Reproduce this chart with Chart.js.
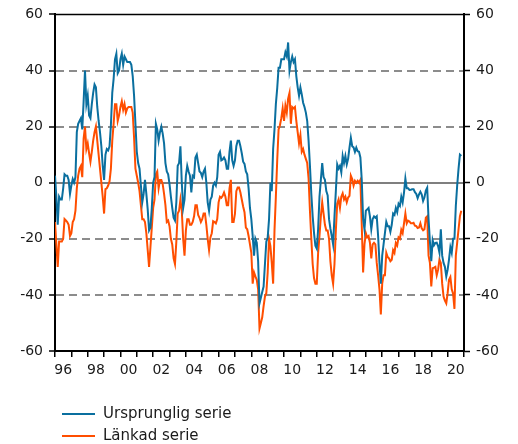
<!DOCTYPE html>
<html>
<head>
<meta charset="utf-8">
<script src="https://cdn.jsdelivr.net/npm/chart.js@4.4.1/dist/chart.umd.min.js"></script>
<style>
  body { margin: 0; background: #fff; }
  #wrap { position: relative; width: 518px; height: 444px; }
  .leg { position: absolute; left: 62px; height: 20px; line-height: 20px; font: 15px 'DejaVu Sans', sans-serif; color: #1a1a1a; white-space: nowrap; }
  .leg i { display: inline-block; width: 33px; height: 2px; vertical-align: middle; margin-right: 8px; }
</style>
</head>
<body>
<div id="wrap">
  <canvas id="chart" width="518" height="444"></canvas>
  <div class="leg" style="top:404px"><i style="background:#0a6f9f"></i>Ursprunglig serie</div>
  <div class="leg" style="top:426px"><i style="background:#ff4e00"></i>Länkad serie</div>
</div>
<script>
// monthly values from Jan 1996
const startYear = 1996;
const endYear = 2021;
const yearLabels = ["96","98","00","02","04","06","08","10","12","14","16","18","20"];
const yTicks = [-60, -40, -20, 0, 20, 40, 60];

const ursprunglig = [
  2.5, -5, -15, -5, -6, -6, -2, 3, 2.5, 2.5, 1, -4,
  -1, 1.3, 0, 2, 18, 21, 22, 23, 19, 29, 40, 28,
  31, 24, 23, 28, 32, 35, 34, 27, 22, 18, 13, 6,
  1, 10, 12, 11.5, 13, 20.5, 32, 37, 44, 46, 39, 40,
  44, 46, 42, 45, 44, 43, 43, 43, 42, 38, 31, 21,
  11, 7, 5, -1, -7, -4, 1, -4, -9.5, -17, -16, -9,
  0, 2, 21, 19, 15, 18, 20, 17.5, 14, 7, 4, 3,
  -0.5, -5, -9, -12.5, -13.5, -7, 6, 7, 13, 0, -9, -6,
  2.5, 6, 4, 2.5, -3.5, 2.5, 2, 9, 10, 7, 4, 3.5,
  2, 4, 5, 0, -7, -10, -6, -5, -1, 0, -1, 2,
  10, 11, 8, 8.3, 9, 8, 5, 5, 11, 15, 8, 6,
  8, 13, 15, 15, 13, 10.5, 7.5, 6.7, 4, 3, -2, -9,
  -13, -19, -26, -20, -21.4, -28, -43, -41, -39, -37, -29, -21,
  -19.6, -13, 0, -3, 12, 19, 28, 33.7, 41, 41, 44, 44,
  44, 46.5, 45, 50, 40, 43, 45, 43, 44, 38, 34, 31,
  34, 31.5, 28.5, 27, 25, 22, 15, 6, -4, -12, -18, -22.5,
  -23.5, -16.6, -5, 1, 7, 2, 1, -3, -4.5, -13, -16.4, -19,
  -22, -12, -3, 6.5, 5, 6, 3.7, 9.5, 7, 9.5, 6.5, 8.5,
  12.5, 16, 13, 12.6, 11, 12.5, 11.2, 11, 9, 1, -13, -16.6,
  -10, -9.5, -9, -12, -16.6, -13, -12, -12.5, -12, -19, -28.6, -36,
  -26, -22, -18, -14, -15.5, -15.5, -17.5, -15, -11, -11.5, -9, -10.5,
  -7.5, -8.3, -5, -7, -3.5, 1.5, -2, -2, -2.6, -2.5, -2.3, -2.3,
  -3.4, -4, -5.5, -4.2, -3.2, -4.2, -6.5, -5.2, -2.8, -1.8, -13, -21,
  -28, -20.5, -22.3, -21.5, -21.4, -22.6, -25, -16.6, -26, -28.6, -30, -33.4,
  -31, -27.4, -23, -25, -20, -20, -8.3, -1, 5, 10, 9.5
];

const lankad = [
  -14, -22, -30, -21, -21, -21, -20, -13, -13.5, -14, -15, -19,
  -18, -14, -13, -10, -2, 2.5, 5, 6, 2, 15.7, 20, 12,
  14, 10.5, 7.5, 11, 15, 18, 20, 15, 10, 5, 0, -5,
  -11, -2.3, -2, -1, 0.5, 5, 15, 21, 28, 28, 22, 24,
  27, 29, 26, 28, 25, 26.5, 27, 27, 27, 25, 16, 5,
  2.5, 0, -3, -8, -13, -13, -14, -18, -24, -30, -23, -16,
  -9, -6, 3, 4, -2, 1, 1, -0.5, -4, -8, -14, -13.5,
  -15.5, -20, -22, -27, -29, -21, -11, -10, -6, -10, -20, -26,
  -17, -13, -13, -15, -15, -14, -12, -8, -8, -11.5, -12.5, -14,
  -13, -11, -11, -15, -20, -24, -19.5, -18, -13.7, -14, -14.5, -13,
  -7, -5, -5.4, -4.7, -3.5, -5, -8, -8, -2, 1, -14, -14,
  -11, -3, -1.7, -1.7, -3.5, -6, -8.5, -10.5, -16, -16.6, -19, -22,
  -25, -36, -32, -33.4, -34.6, -38, -52, -50, -48, -44, -40.6, -39.4,
  -32, -20, -22.6, -28.6, -36, -17, -5, 8, 19, 20.5, 23, 26.5,
  22, 27.5, 25, 30, 32, 21, 27, 26.5, 27, 22, 18, 14,
  17, 11, 12, 10, 8.5, 7, 1.5, -10, -20, -29, -34, -36,
  -36, -25, -19, -12, -7, -11, -15, -17, -17, -20, -28, -33,
  -36, -29, -17, -7.5, -6, -9, -5, -3.8, -6, -5, -7, -5.3,
  -4.7, 2.5, 1.3, -1, 0.7, 0, 0.7, 0, 1, -15, -32, -22,
  -18, -19.5, -19, -21.4, -27, -22, -21.4, -22, -28.6, -33, -38, -47,
  -36, -33, -33, -25, -26.5, -27, -28, -27.5, -24, -25, -21.5, -22.4,
  -19.5, -20, -16.8, -18, -14.5, -11, -14.5, -13.5, -13.8, -14.5, -14.5, -14.3,
  -15.3, -15.5, -16.2, -16, -14.5, -16.3, -17, -16.6, -12.5, -12, -26, -28.6,
  -37, -30.5, -30.3, -30, -33, -31, -27.4, -28.6, -36, -40.6, -42, -43,
  -39.4, -34.6, -33.6, -38, -39.6, -45, -26, -21.4, -16.6, -12, -10
];

const nMonths = (endYear - startYear) * 12;
const toPoints = arr => arr.map((v, i) => ({ x: i, y: v }));
const tickFont = { family: 'DejaVu Sans', size: 14 };
const textColor = '#1a1a1a';

// top edge of the plot box
const topLine = {
  id: 'topLine',
  afterDraw(chart) {
    const { ctx, chartArea } = chart;
    ctx.save();
    ctx.strokeStyle = '#000';
    ctx.lineWidth = 1.5;
    ctx.beginPath();
    ctx.moveTo(chartArea.left, chartArea.top);
    ctx.lineTo(chartArea.right, chartArea.top);
    ctx.stroke();
    ctx.restore();
  }
};

new Chart("chart", {
  type: "line",
  data: {
    datasets: [
      {
        label: "Ursprunglig serie",
        data: toPoints(ursprunglig),
        borderColor: "#0a6f9f",
        borderWidth: 2,
        pointRadius: 0,
        tension: 0
      },
      {
        label: "Länkad serie",
        data: toPoints(lankad),
        borderColor: "#ff4e00",
        borderWidth: 2,
        pointRadius: 0,
        tension: 0
      }
    ]
  },
  options: {
    responsive: false,
    animation: false,
    layout: { padding: { top: 11, left: 0, right: 0, bottom: 0 } },
    plugins: {
      legend: { display: false },
      tooltip: { enabled: false }
    },
    scales: {
      x: {
        type: "linear",
        min: 0,
        max: nMonths,
        afterBuildTicks: s => {
          const t = [];
          for (let v = 0; v <= nMonths; v += 6) t.push({ value: v });
          s.ticks = t;
        },
        afterFit: s => { s.height = 93; },
        grid: {
          drawOnChartArea: false,
          tickLength: 6,
          lineWidth: 1.5,
          color: c => (c.tick && c.tick.value % 12 === 0) ? '#000' : 'rgba(0,0,0,0)',
          tickColor: c => (c.tick && c.tick.value % 12 === 0) ? '#000' : 'rgba(0,0,0,0)'
        },
        border: { color: '#000', width: 2 },
        ticks: {
          autoSkip: false,
          maxRotation: 0,
          minRotation: 0,
          padding: 5,
          color: textColor,
          font: tickFont,
          callback: v => (v % 24 === 6) ? yearLabels[(v - 6) / 24] : ''
        }
      },
      y: {
        min: -60,
        max: 60,
        afterBuildTicks: s => { s.ticks = yTicks.map(v => ({ value: v })); },
        afterFit: s => { s.width = 55; },
        grid: {
          lineWidth: 2,
          color: c => {
            const v = c.tick ? c.tick.value : 0;
            if (Math.abs(v) === 60) return 'rgba(0,0,0,0)';
            return v === 0 ? '#7f7f7f' : '#8c8c8c';
          },
          tickColor: '#000',
          tickLength: 6,
          tickWidth: 1.5
        },
        border: {
          color: '#000',
          width: 2,
          dash: c => (c.tick && c.tick.value !== 0) ? [8, 5] : []
        },
        ticks: { padding: 6, color: textColor, font: tickFont }
      },
      y2: {
        position: "right",
        min: -60,
        max: 60,
        afterBuildTicks: s => { s.ticks = yTicks.map(v => ({ value: v })); },
        afterFit: s => { s.width = 54; },
        grid: {
          drawOnChartArea: false,
          tickColor: '#000',
          tickLength: 6,
          tickWidth: 1.5
        },
        border: { color: '#000', width: 2 },
        ticks: { padding: 6, color: textColor, font: tickFont }
      }
    }
  },
  plugins: [topLine]
});
</script>
</body>
</html>
